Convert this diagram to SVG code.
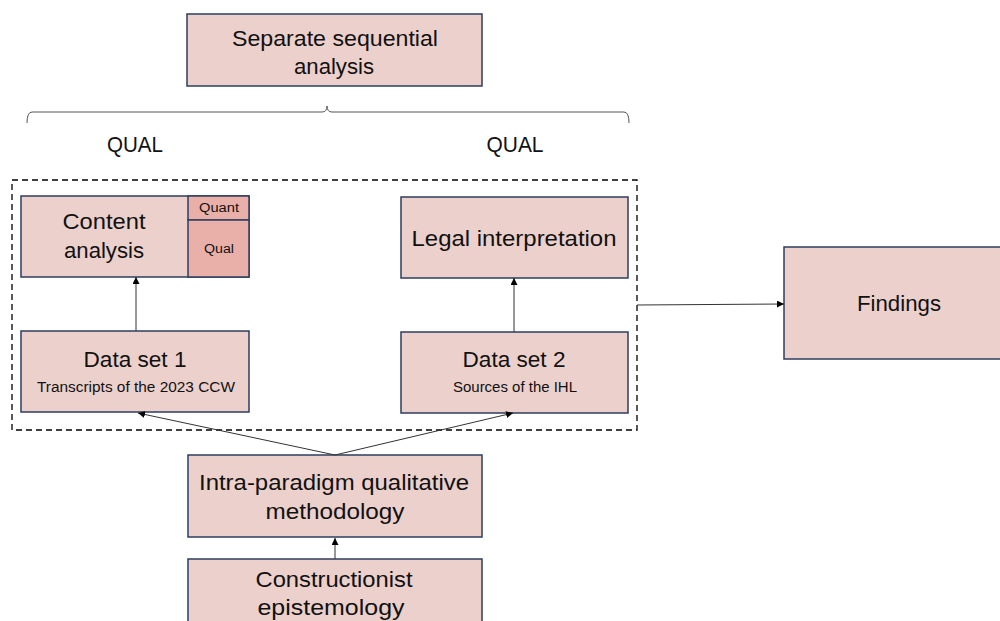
<svg xmlns="http://www.w3.org/2000/svg" width="1000" height="621" viewBox="0 0 1000 621">
<style>
.box{fill:#ECD0CC;stroke:#2E3D5E;stroke-width:1.5}
.dark{fill:#E9B0AA;stroke:#2E3D5E;stroke-width:1.5}
text{font-family:"Liberation Sans",Arial,sans-serif;fill:#111;text-anchor:middle}
.big{font-size:22px}
.sub{font-size:14px}
.sm{font-size:12.5px}
.con{stroke:#333;stroke-width:1;fill:none}
</style>
<defs>
<marker id="ah" viewBox="0 0 10 10" refX="10" refY="5" markerWidth="7" markerHeight="7" orient="auto" markerUnits="userSpaceOnUse">
<path d="M0,0 L10,5 L0,10 z" fill="#000"/>
</marker>
</defs>
<rect x="0" y="0" width="1000" height="621" fill="#fff"/>
<g id="top">
<rect class="box" x="187" y="14" width="295" height="72"/>
<text class="big" x="335" y="46" textLength="206" lengthAdjust="spacingAndGlyphs">Separate sequential</text>
<text class="big" x="334" y="74" textLength="80" lengthAdjust="spacingAndGlyphs">analysis</text>
</g>
<g id="brace">
<path d="M27,123 Q27,112 32,112 L322,112 Q327,112 327,106 Q327,112 332,112 L624,112 Q629,112 629,123" fill="none" stroke="#555" stroke-width="1"/>
<text class="big" x="135" y="152" textLength="56" lengthAdjust="spacingAndGlyphs">QUAL</text>
<text class="big" x="515" y="152" textLength="57" lengthAdjust="spacingAndGlyphs">QUAL</text>
</g>
<g id="group">
<rect x="12" y="180" width="625" height="250" fill="none" stroke="#000" stroke-width="1.3" stroke-dasharray="6,4"/>
</g>
<g id="content">
<rect class="box" x="21" y="196" width="228" height="81"/>
<rect class="dark" x="188" y="196" width="61" height="24"/>
<rect class="dark" x="188" y="220" width="61" height="57"/>
<text class="big" x="104" y="229" textLength="83" lengthAdjust="spacingAndGlyphs">Content</text>
<text class="big" x="104" y="258" textLength="80" lengthAdjust="spacingAndGlyphs">analysis</text>
<text class="sm" x="219" y="212" textLength="40" lengthAdjust="spacingAndGlyphs">Quant</text>
<text class="sm" x="219" y="253" textLength="30" lengthAdjust="spacingAndGlyphs">Qual</text>
</g>
<g id="legal">
<rect class="box" x="401" y="197" width="227" height="81"/>
<text class="big" x="514" y="246" textLength="205" lengthAdjust="spacingAndGlyphs">Legal interpretation</text>
</g>
<g id="ds1">
<rect class="box" x="21" y="331" width="228" height="81"/>
<text class="big" x="135" y="367" textLength="103" lengthAdjust="spacingAndGlyphs">Data set 1</text>
<text class="sub" x="136" y="392" textLength="198" lengthAdjust="spacingAndGlyphs">Transcripts of the 2023 CCW</text>
</g>
<g id="ds2">
<rect class="box" x="401" y="332" width="227" height="81"/>
<text class="big" x="514" y="367" textLength="103" lengthAdjust="spacingAndGlyphs">Data set 2</text>
<text class="sub" x="515" y="392" textLength="124" lengthAdjust="spacingAndGlyphs">Sources of the IHL</text>
</g>
<g id="findings">
<rect class="box" x="784" y="247" width="230" height="112"/>
<text class="big" x="899" y="311" textLength="84" lengthAdjust="spacingAndGlyphs">Findings</text>
</g>
<g id="intra">
<rect class="box" x="188" y="455" width="294" height="82"/>
<text class="big" x="334" y="490" textLength="270" lengthAdjust="spacingAndGlyphs">Intra-paradigm qualitative</text>
<text class="big" x="335" y="519" textLength="139" lengthAdjust="spacingAndGlyphs">methodology</text>
</g>
<g id="constr">
<rect class="box" x="188" y="559" width="294" height="80"/>
<text class="big" x="334" y="587" textLength="157" lengthAdjust="spacingAndGlyphs">Constructionist</text>
<text class="big" x="331" y="615" textLength="147" lengthAdjust="spacingAndGlyphs">epistemology</text>
</g>
<g id="connectors">
<line class="con" x1="136" y1="331" x2="136" y2="277" stroke="#777" marker-end="url(#ah)"/>
<line class="con" x1="514" y1="332" x2="514" y2="278" stroke="#777" marker-end="url(#ah)"/>
<line class="con" x1="335" y1="455" x2="138" y2="413" marker-end="url(#ah)"/>
<line class="con" x1="335" y1="455" x2="513" y2="413" marker-end="url(#ah)"/>
<line class="con" x1="335" y1="559" x2="335" y2="538" stroke="#777" marker-end="url(#ah)"/>
<line class="con" x1="637" y1="305" x2="784" y2="304" marker-end="url(#ah)"/>
</g>
</svg>
